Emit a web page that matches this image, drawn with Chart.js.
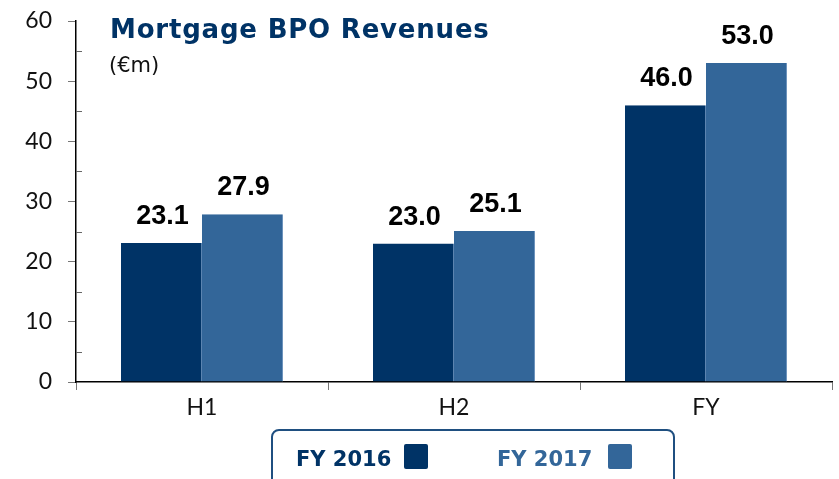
<!DOCTYPE html>
<html>
<head>
<meta charset="utf-8">
<script src="https://cdn.jsdelivr.net/npm/chart.js@4"></script>
<style>
  html, body { margin: 0; padding: 0; background: #fff; }
  #wrap { width: 839px; height: 479px; }
</style>
</head>
<body>
<div id="wrap"><canvas id="myChart" width="839" height="479"></canvas></div>
<script>
const categories = ["H1", "H2", "FY"];
const fy2016 = [23.1, 23.0, 46.0];
const fy2017 = [27.9, 25.1, 53.0];
const seriesNames = ["FY 2016", "FY 2017"];
const minorTicks = [5, 15, 25, 35, 45, 55];

const darkBlue = "#003366";
const lightBlue = "#336699";

// title, value labels, minor ticks and the boxed legend
const extras = {
    id: "extras",
    afterDraw(chart) {
        const ctx = chart.ctx;
        const y = chart.scales.y;
        ctx.save();

        // minor ticks inside the axis
        ctx.strokeStyle = "#666";
        ctx.lineWidth = 1;
        minorTicks.forEach(v => {
            const py = Math.round(y.getPixelForValue(v)) + 0.5;
            ctx.beginPath();
            ctx.moveTo(y.right, py);
            ctx.lineTo(y.right + 6, py);
            ctx.stroke();
        });

        // title
        ctx.fillStyle = darkBlue;
        ctx.font = "bold 26px 'DejaVu Sans'";
        ctx.letterSpacing = "0.8px";
        ctx.textBaseline = "alphabetic";
        ctx.textAlign = "left";
        ctx.fillText("Mortgage BPO Revenues", 110, 38);
        ctx.letterSpacing = "0px";
        ctx.fillStyle = "#111";
        ctx.font = "21px 'DejaVu Sans'";
        ctx.fillText("(€m)", 109, 72);

        // value labels
        ctx.fillStyle = "#000";
        ctx.font = "bold 27px 'Liberation Sans'";
        ctx.textAlign = "center";
        chart.data.datasets.forEach((ds, i) => {
            chart.getDatasetMeta(i).data.forEach((bar, j) => {
                ctx.fillText(ds.data[j].toFixed(1), bar.x + 1, bar.y - 19);
            });
        });

        // legend box
        ctx.strokeStyle = "#1f4f80";
        ctx.lineWidth = 2;
        ctx.beginPath();
        ctx.roundRect(272, 430, 402, 70, 7);
        ctx.stroke();

        ctx.font = "bold 21px 'DejaVu Sans'";
        ctx.textAlign = "left";
        const legendX = [[296, 404], [497, 608]];
        chart.data.datasets.forEach((ds, i) => {
            ctx.fillStyle = ds.backgroundColor;
            ctx.fillText(ds.label, legendX[i][0], 466);
            ctx.beginPath();
            ctx.roundRect(legendX[i][1], 444, 24, 25, 2);
            ctx.fill();
        });
        ctx.restore();
    }
};

new Chart("myChart", {
    type: "bar",
    data: {
        labels: categories,
        datasets: [{
            label: seriesNames[0],
            data: fy2016,
            backgroundColor: darkBlue,
            borderColor: "#5c84b0",
            borderWidth: {left: 0, right: 1, top: 0, bottom: 0},
            borderSkipped: false
        }, {
            label: seriesNames[1],
            data: fy2017,
            backgroundColor: lightBlue,
            borderColor: "#6f95bd",
            borderWidth: {left: 0, right: 1, top: 0, bottom: 0},
            borderSkipped: false
        }]
    },
    options: {
        responsive: false,
        animation: false,
        layout: { padding: { top: 21, right: 7, left: 0, bottom: 0 } },
        plugins: {
            legend: { display: false },
            title: { display: false },
            tooltip: { enabled: false }
        },
        datasets: {
            bar: { categoryPercentage: 0.643, barPercentage: 1.0 }
        },
        scales: {
            x: {
                offset: true,
                grid: {
                    offset: true,
                    drawOnChartArea: false,
                    tickLength: 8,
                    color: "#777"
                },
                border: { color: "#000", width: 1.5 },
                ticks: {
                    color: "#111",
                    padding: 4,
                    font: { family: "Lato", size: 23 }
                },
                afterFit(scale) { scale.height = 97; }
            },
            y: {
                min: 0,
                max: 60,
                ticks: {
                    stepSize: 10,
                    color: "#111",
                    padding: 16,
                    font: { family: "Lato", size: 23 }
                },
                grid: {
                    drawOnChartArea: false,
                    tickLength: 8,
                    color: "#777"
                },
                border: { color: "#000", width: 1.5 },
                afterFit(scale) {
                    scale.width = 76;
                    scale.paddingTop = 0;
                    scale.paddingBottom = 0;
                }
            }
        }
    },
    plugins: [extras]
});
</script>
</body>
</html>
